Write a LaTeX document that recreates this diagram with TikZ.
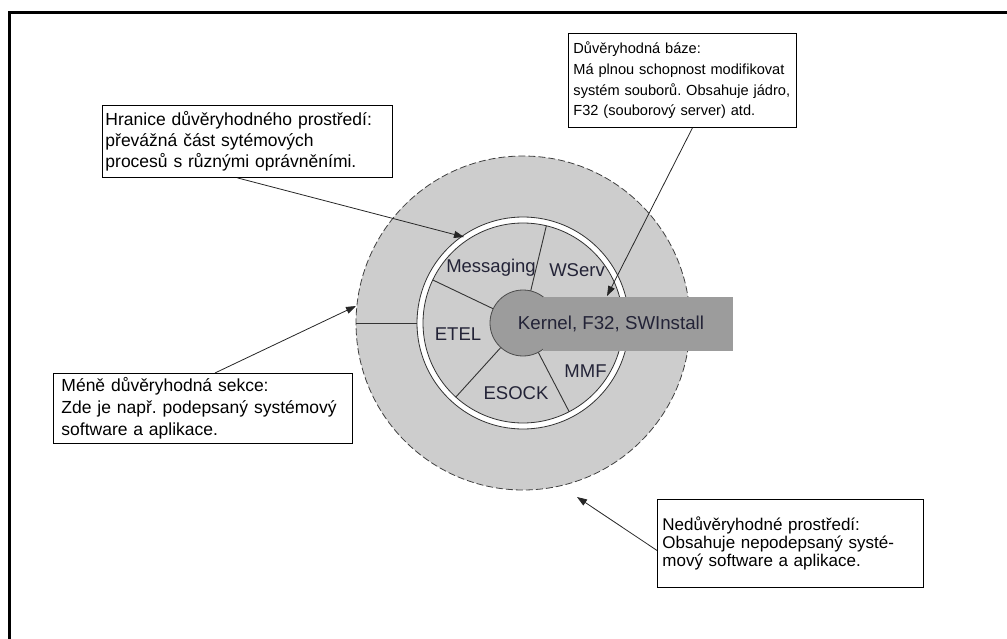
\documentclass[tikz,border=0pt]{standalone}
\usepackage{fontspec}
\setmainfont{Liberation Sans}
\usetikzlibrary{arrows.meta,calc}
\definecolor{ringgray}{RGB}{205,205,205}
\definecolor{kerngray}{RGB}{156,156,156}
\definecolor{labnavy}{RGB}{35,35,55}
\tikzset{
  note/.style={draw=black, line width=0.9pt, anchor=north west, align=left,
    inner ysep=0pt, text=black,
    execute at begin node={\frenchspacing\hyphenpenalty=10000\exhyphenpenalty=10000}},
  seg/.style={text=labnavy, font=\fontsize{18.5}{20}\selectfont},
  pointer/.style={draw=black!85, line width=0.8pt,
    -{Triangle[length=10pt,width=7pt]}},
}
\begin{document}
\begin{tikzpicture}[x=1pt, y=-1pt]
      \useasboundingbox (0,0) rectangle (1007,639);
      \draw[line width=3pt] (9.5,639) -- (9.5,12.5) -- (1007,12.5); % frame
      %
      \coordinate (c) at (523,323);                                   % centre
      \filldraw[fill=ringgray, draw=black!75, line width=0.8pt,
        dash pattern=on 7pt off 3pt] (c) circle[radius=167pt];       % outer zone
      \draw[black!80, line width=0.9pt] ([shift={(180:167pt)}]c) -- ([shift={(180:106pt)}]c);
      %
      \filldraw[fill=white, draw=black!80, line width=0.8pt] (c) circle[radius=106pt]; % ring
      \filldraw[fill=ringgray, draw=black!80, line width=0.8pt] (c) circle[radius=100pt];
      %
      \foreach \a in {76.5,154.5,227.8,297.5}                          % sectors
        \draw[black!80, line width=0.9pt] ([shift={(\a:33pt)}]c) -- ([shift={(\a:100pt)}]c);
      %
      \filldraw[fill=kerngray, draw=black!70, line width=0.8pt] (c) circle[radius=33pt]; % kernel
      \fill[kerngray] (543,297) rectangle (733,351);
      \node[seg, font=\fontsize{18.7}{20}\selectfont] (kernel) at (611,324) {Kernel, F32, SWInstall};
      %
      \node[seg] (msg)   at (491,268)   {Messaging};                  % sector labels
      \node[seg] (wserv) at (577,270.5) {WServ};
      \node[seg] (etel)  at (458,334.5) {ETEL};
      \node[seg] (esock) at (516,393)   {ESOCK};
      \node[seg] (mmf)   at (585.5,371) {MMF};
      %
      \node[note, font=\fontsize{14.6}{20.6}\selectfont, inner xsep=5pt,
        text width=218pt, minimum height=94pt] (base) at (568,33)
        {Důvěryhodná báze:\\ Má plnou schopnost modifikovat\\ systém souborů. Obsahuje jádro,\\ F32 (souborový server) atd.};
      \node[note, font=\fontsize{17.5}{20.7}\selectfont, inner xsep=3pt,
        text width=284pt, minimum height=72pt] (trusted) at (102,105)
        {Hranice důvěryhodného prostředí:\\ převážná část sytémových\\ procesů s různými oprávněními.};
      \node[note, font=\fontsize{17.5}{21.7}\selectfont, inner xsep=8pt,
        text width=283pt, minimum height=70pt] (lesstrusted) at (53,373)
        {Méně důvěryhodná sekce:\\ Zde je např. podepsaný systémový\\ software a aplikace.};
      \node[note, font=\fontsize{17}{18.3}\selectfont, inner xsep=5pt,
        text width=256pt, minimum height=88pt] (untrusted) at (657,499)
        {Nedůvěryhodné prostředí:\\ Obsahuje nepodepsaný systé-\\ mový software a aplikace.};
      %
      \coordinate (tipbase)   at (607,296);                            % arrow tips
      \coordinate (tipring)   at (464,237);
      \coordinate (tipless)   at (356,306);
      \coordinate (tipoutside) at (577,497);
      \draw[pointer] ([xshift=10pt]base.south) -- (tipbase);
      \draw[pointer] ([xshift=-10pt]trusted.south) -- (tipring);
      \draw[pointer] ([xshift=12pt]lesstrusted.north) -- (tipless);
      \draw[pointer] ([yshift=-7pt]untrusted.west) -- (tipoutside);
    \end{tikzpicture}
\end{document}
